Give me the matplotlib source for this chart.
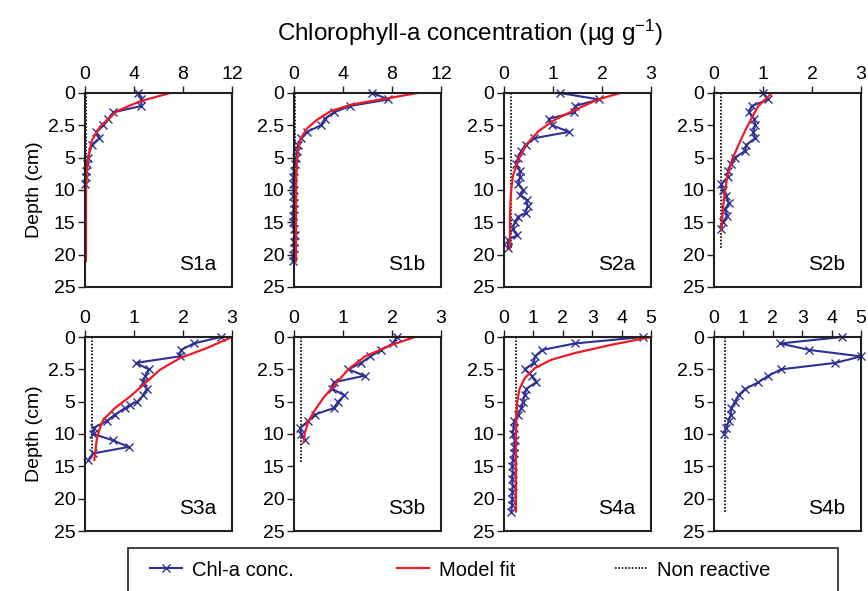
import numpy as np
import matplotlib
matplotlib.use('Agg')
import matplotlib.pyplot as plt
from matplotlib.lines import Line2D
from matplotlib.patches import Rectangle

plt.rcParams['font.family'] = ['Liberation Sans', 'DejaVu Sans']
plt.rcParams['mathtext.fontset'] = 'custom'
plt.rcParams['mathtext.rm'] = 'Liberation Sans'
plt.rcParams['mathtext.default'] = 'regular'

# depth ticks are spaced evenly even though the step changes from 2.5 to 5 cm
depth_ticks = [0, 2.5, 5, 10, 15, 20, 25]

# ---- S1a ----
s1a_depth = [0, 0.5, 1, 1.5, 2, 2.5, 3, 3.5, 4, 5, 6, 7, 8, 9]
s1a_chl = [4.36, 4.6, 4.6, 2.3, 1.9, 1.5, 0.9, 1.17, 0.55, 0.27, 0.14, 0.08, 0.05, 0.0]
s1a_fit_depth = [0, 0.64, 1.4, 2.6, 3.7, 4.9, 7.4, 10.5, 15, 21]
s1a_fit = [6.95, 4.5, 2.6, 1.23, 0.55, 0.27, 0.14, 0.08, 0.08, 0.08]
s1a_nr, s1a_nr_end = 0.08, 21

# ---- S1b ----
s1b_depth = [0, 0.5, 1, 1.5, 2, 2.5, 3, 3.5, 4, 4.5, 5, 6, 7, 8, 9, 10,
             11, 12, 13, 14, 15, 16, 17, 18, 19, 20, 21]
s1b_chl = [6.4, 7.7, 4.6, 3.25, 2.5, 2.2, 1.07, 0.6, 0.33, 0.27, 0.2, 0.05, 0.0,
           -0.05, -0.08, -0.03, -0.06, 0.02, -0.04, -0.08, -0.1, -0.02, 0.05,
           -0.03, 0.0, -0.05, -0.1]
s1b_fit_depth = [0, 0.4, 0.9, 1.4, 2.06, 2.7, 3.5, 4.4, 5.3, 7.9, 13, 21]
s1b_fit = [10.1, 7.7, 4.65, 3.0, 1.9, 1.1, 0.55, 0.33, 0.25, 0.19, 0.16, 0.16]
s1b_nr, s1b_nr_end = 0.1, 21

# ---- S2a ----
s2a_depth = [0, 0.5, 1, 1.5, 2, 2.5, 3, 3.5, 4, 4.5, 5, 6, 7, 8, 9, 10,
             10.7, 11.5, 12.5, 13.6, 14.1, 15, 16, 17, 17.7, 19]
s2a_chl = [1.14, 1.94, 1.45, 1.43, 0.91, 0.98, 1.33, 0.61, 0.44, 0.35, 0.29, 0.25,
           0.32, 0.33, 0.29, 0.39, 0.32, 0.46, 0.48, 0.44, 0.29, 0.22, 0.18, 0.27,
           0.08, 0.08]
s2a_fit_depth = [0, 0.5, 1.3, 2.06, 2.96, 3.98, 5.3, 7.9, 10.5, 14.1, 19]
s2a_fit = [2.37, 1.92, 1.45, 1.04, 0.7, 0.46, 0.29, 0.18, 0.14, 0.12, 0.12]
s2a_nr, s2a_nr_end = 0.14, 19

# ---- S2b ----
s2b_depth = [0, 0.5, 1, 1.5, 2, 2.5, 3, 3.5, 4, 4.5, 5, 6, 7, 8, 9, 10,
             11, 12, 13, 14, 15, 16]
s2b_chl = [0.99, 1.11, 0.77, 0.71, 0.82, 0.84, 0.8, 0.84, 0.66, 0.63, 0.42, 0.34,
           0.29, 0.29, 0.15, 0.18, 0.25, 0.3, 0.23, 0.27, 0.18, 0.14]
s2b_fit_depth = [0, 1.03, 1.93, 2.96, 4.1, 5.3, 7.9, 10.5, 13, 16.1]
s2b_fit = [1.18, 0.9, 0.77, 0.63, 0.49, 0.37, 0.27, 0.22, 0.18, 0.15]
s2b_nr, s2b_nr_end = 0.14, 19

# ---- S3a ----
s3a_depth = [0, 0.5, 1, 1.5, 2, 2.5, 3, 3.5, 4, 4.5, 5, 5.5, 6, 7, 8, 9, 10,
             11, 12, 13, 14]
s3a_chl = [2.77, 2.22, 1.96, 1.93, 1.04, 1.3, 1.23, 1.18, 1.26, 1.19, 1.07, 0.92,
           0.82, 0.61, 0.44, 0.19, 0.17, 0.58, 0.89, 0.17, 0.07]
s3a_fit_depth = [0, 0.85, 1.63, 2.53, 3.7, 4.6, 6.0, 7.8, 9.4, 10.9, 14]
s3a_fit = [3.0, 2.49, 1.94, 1.53, 1.19, 0.92, 0.61, 0.37, 0.29, 0.24, 0.19]
s3a_nr, s3a_nr_end = 0.15, 13.5

# ---- S3b ----
s3b_depth = [0, 0.5, 1, 1.5, 2, 2.5, 3, 3.5, 4, 4.5, 5, 6, 7, 8, 9, 10, 11]
s3b_chl = [2.1, 2.02, 1.78, 1.56, 1.37, 1.11, 1.44, 0.81, 0.77, 1.03, 0.9, 0.81,
           0.42, 0.29, 0.13, 0.14, 0.22]
s3b_fit_depth = [0, 0.6, 1.5, 2.5, 3.7, 4.7, 6.5, 8.1, 9.9, 11.2]
s3b_fit = [2.47, 2.0, 1.45, 1.11, 0.83, 0.6, 0.41, 0.29, 0.22, 0.2]
s3b_nr, s3b_nr_end = 0.15, 14.3

# ---- S4a ----
s4a_depth = [0, 0.5, 1, 1.5, 2, 2.5, 3, 3.5, 4, 4.5, 5, 6, 7, 8, 9, 10, 11,
             12, 13, 14, 15, 16, 17, 18, 19, 20, 21, 22]
s4a_chl = [4.74, 2.41, 1.3, 1.05, 1.02, 0.7, 0.95, 1.1, 0.76, 0.7, 0.65, 0.59,
           0.48, 0.34, 0.33, 0.3, 0.36, 0.35, 0.33, 0.3, 0.28, 0.3, 0.27, 0.3,
           0.28, 0.28, 0.27, 0.25]
s4a_fit_depth = [0, 0.6, 1.24, 1.76, 2.4, 3.2, 4.0, 5.0, 7.3, 13, 22]
s4a_fit = [5.0, 3.66, 2.41, 1.61, 1.05, 0.7, 0.53, 0.45, 0.42, 0.4, 0.4]
s4a_nr, s4a_nr_end = 0.4, 22

# ---- S4b (no model fit) ----
s4b_depth = [0, 0.5, 1, 1.5, 2, 2.5, 3, 3.5, 4, 4.5, 5, 6, 7, 8, 9, 10]
s4b_chl = [4.36, 2.25, 3.24, 5.0, 4.13, 2.28, 1.85, 1.51, 1.07, 0.84, 0.71, 0.59,
           0.57, 0.5, 0.42, 0.35]
s4b_nr, s4b_nr_end = 0.39, 22

panel_names = ['S1a', 'S1b', 'S2a', 'S2b', 'S3a', 'S3b', 'S4a', 'S4b']
x_max = [12, 12, 3, 3, 3, 3, 5, 5]
x_step = [4, 4, 1, 1, 1, 1, 1, 1]

profiles = [
    (s1a_depth, s1a_chl, s1a_fit_depth, s1a_fit, s1a_nr, s1a_nr_end),
    (s1b_depth, s1b_chl, s1b_fit_depth, s1b_fit, s1b_nr, s1b_nr_end),
    (s2a_depth, s2a_chl, s2a_fit_depth, s2a_fit, s2a_nr, s2a_nr_end),
    (s2b_depth, s2b_chl, s2b_fit_depth, s2b_fit, s2b_nr, s2b_nr_end),
    (s3a_depth, s3a_chl, s3a_fit_depth, s3a_fit, s3a_nr, s3a_nr_end),
    (s3b_depth, s3b_chl, s3b_fit_depth, s3b_fit, s3b_nr, s3b_nr_end),
    (s4a_depth, s4a_chl, s4a_fit_depth, s4a_fit, s4a_nr, s4a_nr_end),
    (s4b_depth, s4b_chl, None, None, s4b_nr, s4b_nr_end),
]

blue = '#2e3192'
red = '#ed1c24'
edge = '#231f20'

_d = np.array([-100] + depth_ticks + [1000], dtype=float)
_p = np.array([-40, 0, 1, 2, 3, 4, 5, 6, 201], dtype=float)


def depth_fwd(d):
    return np.interp(d, _d, _p)


def depth_inv(p):
    return np.interp(p, _p, _d)


W, H = 868, 591
fig = plt.figure(figsize=(W / 100, H / 100), dpi=100)

col_left = [85, 294, 504, 714]
row_top = [93, 337]
ax_w, ax_h = 147, 194

for i, name in enumerate(panel_names):
    r, c = divmod(i, 4)
    left = col_left[c] / W
    bottom = 1 - (row_top[r] + ax_h) / H
    ax = fig.add_axes([left, bottom, ax_w / W, ax_h / H])
    depth, chl, fit_depth, fit, nr, nr_end = profiles[i]

    ax.plot([nr, nr], [0, nr_end], color='black', ls=(0, (1, 1)), lw=1.2)
    ax.plot(chl, depth, color=blue, lw=1.5, marker='x', ms=5.5, mew=1,
            clip_on=False)
    if fit is not None:
        ax.plot(fit, fit_depth, color=red, lw=1.6)

    ax.set_yscale('function', functions=(depth_fwd, depth_inv))
    ax.set_ylim(25, 0)
    ax.set_yticks(depth_ticks)
    ax.set_yticklabels(['0', '2.5', '5', '10', '15', '20', '25'])
    ax.yaxis.set_minor_locator(plt.NullLocator())

    ax.set_xlim(0, x_max[i])
    ax.set_xticks(np.arange(0, x_max[i] + 0.1, x_step[i]))
    ax.xaxis.tick_top()
    ax.tick_params(direction='out', length=5, width=1.0, labelsize=14,
                   color=edge, labelcolor='black', pad=2)

    for s in ax.spines.values():
        s.set_linewidth(1.5)
        s.set_color(edge)

    ax.text(0.89, 0.065, name, transform=ax.transAxes, ha='right',
            va='bottom', fontsize=15)
    if c == 0:
        ax.set_ylabel('Depth (cm)', fontsize=14, labelpad=4)

fig.text(470 / W, 1 - 33 / H, 'Chlorophyll-a concentration (µg g$^{-1}$)',
         ha='center', va='center', fontsize=17.5)

# legend frame runs off the lower edge of the figure
fig.add_artist(Rectangle((128 / W, -0.05), 710 / W, (H - 548) / H + 0.05,
                         transform=fig.transFigure, fill=False,
                         edgecolor=edge, lw=1.2))

handles = [
    Line2D([], [], color=blue, lw=1.5, marker='x', ms=5.5, mew=1),
    Line2D([], [], color=red, lw=1.6),
    Line2D([], [], color='black', ls=(0, (1, 1)), lw=1.2),
]
labels = ['Chl-a conc.', 'Model fit', 'Non reactive']
entry_x = [150, 397, 615]
for h, lab, x in zip(handles, labels, entry_x):
    fig.legend([h], [lab], loc='center left', bbox_to_anchor=(x / W, 1 - 570 / H),
               frameon=False, fontsize=14.5, handlelength=1.6, handletextpad=0.5,
               borderaxespad=0, borderpad=0)

fig.savefig('out.png', dpi=100)
